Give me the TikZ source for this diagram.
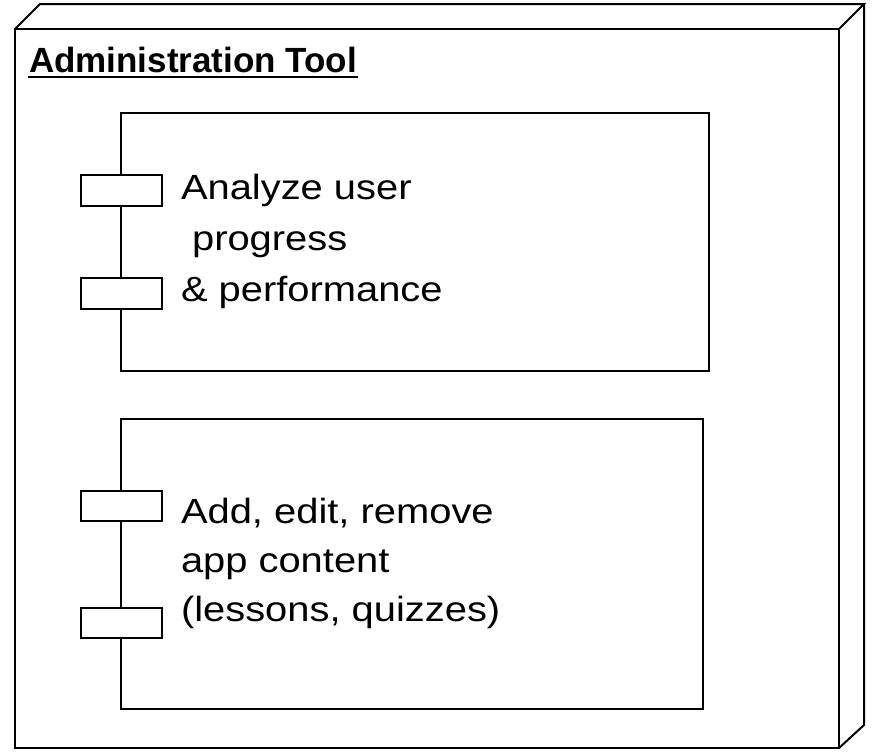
\documentclass[tikz,border=0pt]{standalone}
\usepackage{fontspec}
\setmainfont{Liberation Sans}
\usepackage{graphicx}
\begin{document}
\begin{tikzpicture}[x=0.75pt,y=-0.75pt,line width=1.5pt,
  edge/.style={draw=black},
  part/.style={draw=black,fill=white},
  txt/.style={anchor=base west,inner sep=0pt,align=left}]
\useasboundingbox (0,0) rectangle (873,751);

% deployment node: front face and the two depth faces
\draw[edge] (15,29) rectangle (839,748);
\draw[edge] (15,29) -- (40,4) -- (864,4) -- (839,29);
\draw[edge] (864,4) -- (864,725) -- (839,748);

% node name, underlined
\node[txt,font=\fontsize{26.25pt}{31.5pt}\selectfont\bfseries] (title) at (28,72.7) {Administration Tool};
\draw[line width=1.5pt] ([yshift=-3pt]title.base west) -- ([yshift=-3pt]title.base east);

% first component with its two ports
\draw[edge] (121,112.5) rectangle (708.5,370.5);
\draw[part] (81,175) rectangle (162,206);
\draw[part] (81,278) rectangle (162,309);
\node[txt,font=\fontsize{26.25pt}{38.4pt}\selectfont] (analyze) at (180,199.3)
  {\scalebox{1.14}[1]{\begin{tabular}[t]{@{}l@{}}Analyze user\\\ progress\\\& performance\end{tabular}}};

% second component with its two ports
\draw[edge] (121,419) rectangle (702.5,709);
\draw[part] (81,491) rectangle (162,521);
\draw[part] (81,608) rectangle (162,638);
\node[txt,font=\fontsize{26.25pt}{36.9pt}\selectfont] (content) at (180,523.3)
  {\scalebox{1.14}[1]{\begin{tabular}[t]{@{}l@{}}Add, edit, remove\\app content\\(lessons, quizzes)\end{tabular}}};
\end{tikzpicture}
\end{document}
